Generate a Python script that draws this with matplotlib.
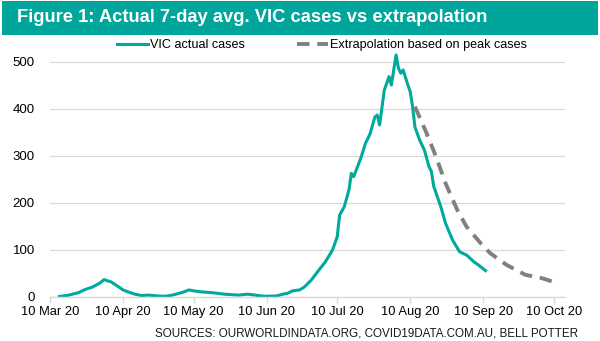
import matplotlib
matplotlib.use("Agg")
import matplotlib.pyplot as plt
import matplotlib.dates as mdates
from matplotlib.patches import Rectangle
import pandas as pd

plt.rcParams['font.family'] = ['Liberation Sans', 'DejaVu Sans']

# Actual 7-day average VIC cases
actual_dates = ['2020-03-14', '2020-03-18', '2020-03-22', '2020-03-25', '2020-03-28',
                '2020-03-31', '2020-04-02', '2020-04-03', '2020-04-05', '2020-04-08',
                '2020-04-10', '2020-04-12', '2020-04-15', '2020-04-18', '2020-04-21',
                '2020-04-25', '2020-04-28', '2020-05-01', '2020-05-04', '2020-05-06',
                '2020-05-08', '2020-05-10', '2020-05-13', '2020-05-18', '2020-05-23',
                '2020-05-29', '2020-06-02', '2020-06-05', '2020-06-09', '2020-06-14',
                '2020-06-17', '2020-06-19', '2020-06-21', '2020-06-24', '2020-06-26',
                '2020-06-29', '2020-07-02', '2020-07-05', '2020-07-08', '2020-07-10',
                '2020-07-11', '2020-07-13', '2020-07-15', '2020-07-16', '2020-07-17',
                '2020-07-20', '2020-07-22', '2020-07-23', '2020-07-24', '2020-07-26',
                '2020-07-27', '2020-07-28', '2020-07-30', '2020-08-01', '2020-08-02',
                '2020-08-03', '2020-08-04', '2020-08-05', '2020-08-06', '2020-08-07',
                '2020-08-09', '2020-08-10', '2020-08-11', '2020-08-12', '2020-08-14',
                '2020-08-16', '2020-08-18', '2020-08-19', '2020-08-20', '2020-08-21',
                '2020-08-23', '2020-08-25', '2020-08-28', '2020-08-31', '2020-09-03',
                '2020-09-06', '2020-09-08', '2020-09-11']
actual_cases = [0, 3, 8, 15, 20,
                28, 36, 34, 31, 21,
                14, 10, 5, 2, 3,
                1, 0.5, 3, 7, 10,
                14, 12, 10, 8, 5,
                3, 5, 3, 0.5, 1,
                5, 7, 12, 14, 20,
                35, 55, 74, 99, 127,
                173, 191, 227, 262, 255,
                294, 326, 336, 347, 382,
                386, 365, 439, 468, 450,
                482, 514, 486, 475, 482,
                450, 436, 404, 361, 333,
                312, 276, 266, 234, 220,
                191, 156, 120, 95, 88,
                74, 67, 55]

# Extrapolation based on peak cases
extrap_dates = ['2020-08-12', '2020-08-17', '2020-08-21', '2020-08-25', '2020-08-30',
                '2020-09-03', '2020-09-09', '2020-09-13', '2020-09-20', '2020-09-28',
                '2020-10-05', '2020-10-11']
extrap_cases = [404, 347, 297, 241, 184,
                148, 113, 92, 67, 46,
                39, 29]

teal = '#00A99D'
gray = '#808080'

fig = plt.figure(figsize=(6.0, 3.41), dpi=100)

# title banner
fig.patches.append(Rectangle((2 / 600, 1 - 35 / 341), 596 / 600, 34 / 341,
                             transform=fig.transFigure, facecolor='#00A59B',
                             edgecolor='none'))
fig.text(17 / 600, 1 - 18 / 341, 'Figure 1: Actual 7-day avg. VIC cases vs extrapolation',
         color='white', fontsize=13.2, fontweight='bold', va='center', ha='left')

ax = fig.add_axes([50 / 600, 44.5 / 341, 515 / 600, 249.1 / 341])

ax.plot(pd.to_datetime(actual_dates), actual_cases, color=teal, lw=2.2,
        label='VIC actual cases', solid_joinstyle='round')
ax.plot(pd.to_datetime(extrap_dates), extrap_cases, color=gray, lw=2.8,
        dashes=(3.2, 2.0), label='Extrapolation based on peak cases')

ax.set_xlim(pd.Timestamp('2020-03-10'), pd.Timestamp('2020-10-14 18:00'))
ax.set_ylim(0, 530)
ax.set_yticks([0, 100, 200, 300, 400, 500])
ax.yaxis.grid(True, color='#D9D9D9', lw=0.9)
ax.set_axisbelow(True)

tick_dates = pd.to_datetime(['2020-03-10', '2020-04-10', '2020-05-10', '2020-06-10',
                             '2020-07-10', '2020-08-10', '2020-09-10', '2020-10-10'])
ax.set_xticks(tick_dates)
ax.xaxis.set_major_formatter(mdates.DateFormatter('%d %b %y'))

for s in ['top', 'right', 'left']:
    ax.spines[s].set_visible(False)
ax.spines['bottom'].set_color('#D9D9D9')
ax.spines['bottom'].set_linewidth(1.0)
ax.tick_params(axis='x', colors='#D9D9D9', length=4, width=1.0, labelcolor='black',
               labelsize=9.3, pad=3)
ax.tick_params(axis='y', length=0, labelsize=9.5, pad=11)

fig.legend(loc='center', bbox_to_anchor=(322 / 600, 1 - 45 / 341), ncol=2,
           frameon=False, fontsize=9.1, handlelength=2.4, handletextpad=0.15,
           columnspacing=4.2, borderaxespad=0)

fig.text(578 / 600, 1 - 333 / 341,
         'SOURCES: OURWORLDINDATA.ORG, COVID19DATA.COM.AU, BELL POTTER',
         ha='right', va='center', fontsize=8.4, color='#1a1a1a')

fig.savefig('out.png', dpi=100)
